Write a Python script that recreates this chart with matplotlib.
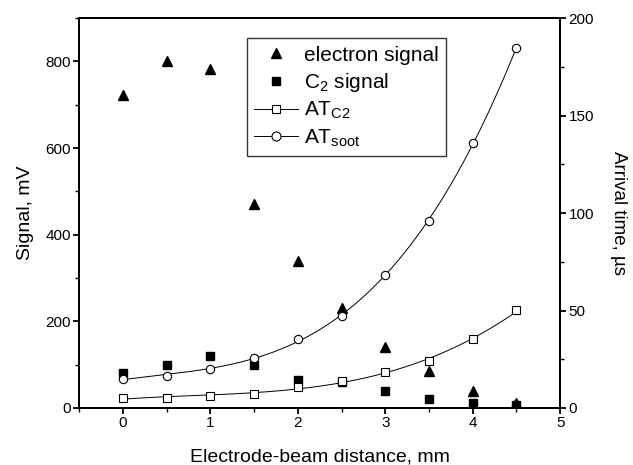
import numpy as np
import matplotlib
matplotlib.use("Agg")
import matplotlib.pyplot as plt
from matplotlib.ticker import MultipleLocator

plt.rcParams['font.family'] = ['Liberation Sans', 'DejaVu Sans']
plt.rcParams['mathtext.default'] = 'regular'

distance = [0, 0.5, 1, 1.5, 2, 2.5, 3, 3.5, 4, 4.5]
electron_signal = [722, 800, 783, 470, 340, 230, 140, 85, 40, 12]
c2_signal = [80, 100, 120, 100, 65, 60, 40, 20, 12, 8]
at_c2 = [5.1, 5.2, 6.3, 7.3, 10.6, 13.8, 18.6, 24.1, 35.2, 50.1]
at_soot = [14.9, 16.6, 20.0, 25.6, 35.2, 47.2, 68.2, 96.1, 135.9, 184.8]

fig, ax = plt.subplots(figsize=(6.33, 4.65), dpi=100)
fig.subplots_adjust(left=0.125, right=0.885, top=0.961, bottom=0.1226)
ax2 = ax.twinx()

h1, = ax.plot(distance, electron_signal, '^', color='black', ms=7.5, ls='none',
              label='electron signal')
h2, = ax.plot(distance, c2_signal, 's', color='black', ms=5.5, ls='none',
              label='C$_2$ signal')

# smooth curves through the arrival times
xs = np.linspace(distance[0], distance[-1], 200)
fit_c2 = np.polyval(np.polyfit(distance, at_c2, 3), xs)
fit_soot = np.polyval(np.polyfit(distance, at_soot, 3), xs)
ax2.plot(xs, fit_c2, color='black', lw=0.7, zorder=1)
ax2.plot(xs, fit_soot, color='black', lw=0.7, zorder=1)
ax2.plot(distance, at_c2, 's', mfc='white', mec='black', mew=0.8, ms=5.5, zorder=2)
ax2.plot(distance, at_soot, 'o', mfc='white', mec='black', mew=0.8, ms=6, zorder=2)

h3, = ax.plot([], [], 's-', mfc='white', mec='black', color='black', lw=0.7,
              mew=0.8, ms=6, label='AT$_{C2}$')
h4, = ax.plot([], [], 'o-', mfc='white', mec='black', color='black', lw=0.7,
              mew=0.8, ms=6.5, label='AT$_{soot}$')

ax.set_xlim(-0.5, 5)
ax.set_ylim(0, 900)
ax2.set_ylim(0, 200)

ax.xaxis.set_major_locator(MultipleLocator(1))
ax.xaxis.set_minor_locator(MultipleLocator(0.5))
ax.yaxis.set_major_locator(MultipleLocator(200))
ax.yaxis.set_minor_locator(MultipleLocator(100))
ax2.yaxis.set_major_locator(MultipleLocator(50))
ax2.yaxis.set_minor_locator(MultipleLocator(25))

for a in (ax, ax2):
    a.tick_params(which='major', direction='out', length=4.5, width=1.3,
                  labelsize=11, pad=1.5)
    a.tick_params(which='minor', direction='out', length=3, width=1.0)
    for s in a.spines.values():
        s.set_linewidth(1.4)

ax.set_xlabel('Electrode-beam distance, mm', fontsize=14, labelpad=13)
ax.set_ylabel('Signal, mV', fontsize=14, labelpad=8)
ax2.set_ylabel('Arrival time, \u00b5s', fontsize=13.5, rotation=270, labelpad=24)

leg = ax.legend(handles=[h1, h2, h3, h4], loc='upper left',
                bbox_to_anchor=(0.349, 0.948), fontsize=15, frameon=True,
                fancybox=False, edgecolor='black', handlelength=2.1,
                borderpad=0.35, labelspacing=0.3, handletextpad=0.3,
                borderaxespad=0)
leg.get_frame().set_linewidth(1.0)

fig.savefig('out.png', dpi=100)
